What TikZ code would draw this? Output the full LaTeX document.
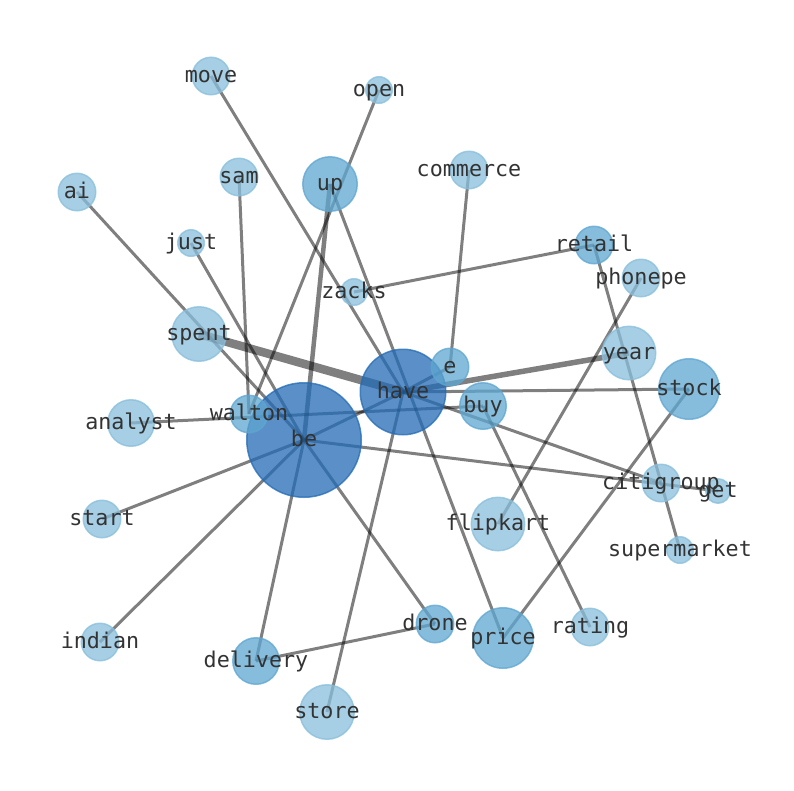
\documentclass[tikz,border=0pt]{standalone}
\usepackage{fontspec}
\newfontfamily\lblfont{DejaVu Sans Mono}
\pgfdeclarelayer{bg}
\pgfsetlayers{bg,main}
\definecolor{lightc}{RGB}{136,190,219}
\definecolor{midc}{RGB}{94,166,208}
\definecolor{darkc}{RGB}{35,107,180}
\definecolor{lblc}{RGB}{51,51,51}
\begin{document}
\begin{tikzpicture}[x=1pt,y=-1pt,
  nd/.style={circle, inner sep=0pt, line width=1.5pt, fill opacity=0.75, draw opacity=0.75},
  edge/.style={draw=black, draw opacity=0.5, line width=3pt},
  lbl/.style={font=\lblfont\fontsize{21.7}{26}\selectfont, text=lblc, inner sep=0pt, anchor=base}]
\useasboundingbox (0,0) rectangle (794,790);
\foreach \n/\x/\y/\d/\c in {
  be/304/440/114.5/darkc, have/403/392/85.5/darkc, up/330/184/54.5/midc,
  move/211/76/37.5/lightc, open/379/90/26.5/lightc, commerce/469/170/37.5/lightc,
  ai/77/192/37.5/lightc, sam/239/177/37.5/lightc, just/191/243/26.5/lightc,
  retail/594/245/37.5/midc, phonepe/641/278/37.5/lightc, zacks/354/292/26.5/lightc,
  spent/199/334/54.5/lightc, e/450/367/37.5/midc, year/629/353/53.5/lightc,
  stock/689/389/60.5/midc, buy/483/406/46.5/midc, analyst/131/423/46.5/lightc,
  walton/249/414/37.5/midc, citigroup/661/483/37.5/lightc, get/718/491/24.5/lightc,
  flipkart/498/524/53.5/lightc, start/102/519/37.5/lightc, supermarket/680/550/26.5/lightc,
  indian/100/642/37.5/lightc, drone/435/624/37.5/midc, price/503/638/60.5/midc,
  rating/590/627/37.5/lightc, delivery/256/661/46.5/midc, store/327/712/54.5/lightc}
  \node[nd, fill=\c, draw=\c, minimum size=\d pt] (\n) at (\x,\y) {};
\begin{pgfonlayer}{bg}
\foreach \a/\b in {ai/be, just/be, sam/walton, open/walton, move/have, up/price,
  analyst/buy, be/have, be/get, have/stock, have/e, have/citigroup, buy/rating,
  phonepe/flipkart, retail/supermarket, stock/price, be/drone, delivery/drone,
  be/delivery, be/start, be/indian, store/have, commerce/e, retail/zacks}
  \draw[edge] (\a.center) -- (\b.center);
\draw[edge, line width=4.5pt] (up.center) -- (be.center);
\draw[edge, line width=5.5pt] (have.center) -- (year.center);
\draw[edge, line width=8.5pt] (spent.center) -- (have.center);
\end{pgfonlayer}
\foreach \n in {be, have, up, move, open, commerce, ai, sam, just, retail, phonepe,
  zacks, spent, e, year, stock, buy, analyst, walton, citigroup, get, flipkart,
  start, supermarket, indian, drone, price, rating, delivery, store}
  \node[lbl] (l-\n) at ([yshift=-6.5pt]\n.center) {\n};
\end{tikzpicture}
\end{document}
